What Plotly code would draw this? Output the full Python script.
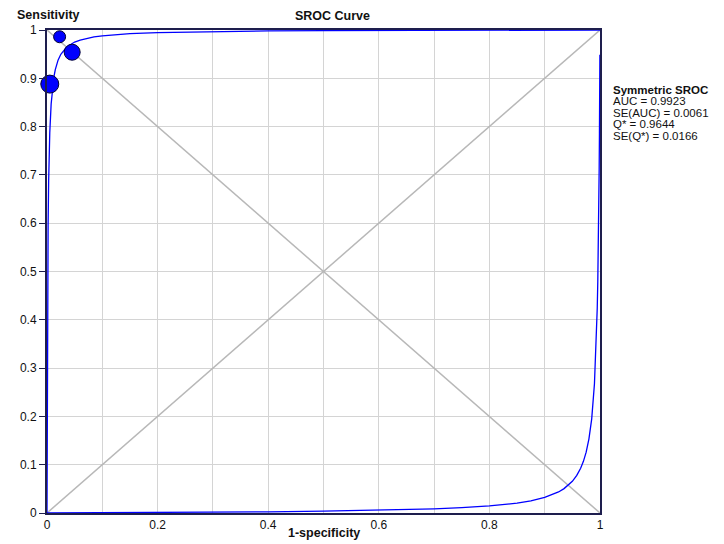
import plotly.graph_objects as go

# Study points (1-specificity, sensitivity, marker size)
study_fpr = [0.005, 0.0455, 0.0228]
study_tpr = [0.888, 0.954, 0.986]
study_size = [18, 16, 12]

# Symmetric SROC curve (upper branch)
sroc_fpr = [0, 0.0001, 0.0005, 0.001, 0.0015, 0.002, 0.003, 0.004, 0.005, 0.0075,
            0.01, 0.0125, 0.015, 0.02, 0.025, 0.03, 0.035, 0.04, 0.05, 0.06, 0.07,
            0.085, 0.1, 0.12, 0.15, 0.2, 0.3, 0.4, 0.5, 0.6, 0.7, 0.8, 0.9, 1.0]
sroc_tpr = [0, 0.0685, 0.269, 0.424, 0.525, 0.596, 0.689, 0.747, 0.787, 0.847,
            0.881, 0.903, 0.918, 0.9375, 0.9496, 0.958, 0.9639, 0.968, 0.975, 0.979,
            0.982, 0.9856, 0.988, 0.990, 0.9924, 0.9946, 0.9968, 0.998, 0.9986,
            0.9991, 0.9994, 0.9997, 0.9998, 1.0]

# Lower branch of the curve
low_fpr = [0, 0.1, 0.2, 0.3, 0.4, 0.5, 0.6, 0.7, 0.75, 0.8, 0.85, 0.875, 0.9,
           0.925, 0.935, 0.95, 0.958, 0.965, 0.97, 0.975, 0.98, 0.985, 0.99, 0.993,
           0.995, 0.996, 0.9965, 0.9975, 0.9985, 0.999, 0.9995, 0.9998]
low_tpr = [0, 0.0004, 0.0009, 0.0016, 0.0025, 0.0037, 0.0055, 0.0086, 0.011,
           0.0146, 0.0205, 0.0252, 0.0322, 0.0436, 0.0505, 0.0657, 0.0778, 0.0926,
           0.107, 0.126, 0.1535, 0.195, 0.268, 0.344, 0.424, 0.479, 0.512, 0.596,
           0.711, 0.787, 0.881, 0.949]

diag_x = [0, 1]
diag_y = [0, 1]
anti_x = [0, 1]
anti_y = [1, 0]

x_ticks = [0, 0.2, 0.4, 0.6, 0.8, 1]
x_tick_text = ["0", "0.2", "0.4", "0.6", "0.8", "1"]
y_ticks = [0, 0.1, 0.2, 0.3, 0.4, 0.5, 0.6, 0.7, 0.8, 0.9, 1]
y_tick_text = ["0", "0.1", "0.2", "0.3", "0.4", "0.5", "0.6", "0.7", "0.8", "0.9", "1"]

legend_title = "Symmetric SROC"
legend_lines = ["AUC = 0.9923", "SE(AUC) = 0.0061", "Q* = 0.9644", "SE(Q*) = 0.0166"]

FONT = "Liberation Sans, Arial, sans-serif"
GREY = "#b8b8b8"
BLUE = "#0000ff"

# page has an 8px body margin: plot area target is x 44..600, y 30..514 in page pixels
OFF = 8
L, T, PW, PH = 44 - OFF, 30 - OFF, 556, 484
W, H = 724 - OFF, 544 - OFF

fig = go.Figure()
fig.add_trace(go.Scatter(x=diag_x, y=diag_y, mode="lines",
                         line=dict(color=GREY, width=1.5), hoverinfo="skip"))
fig.add_trace(go.Scatter(x=anti_x, y=anti_y, mode="lines",
                         line=dict(color=GREY, width=1.5), hoverinfo="skip"))
fig.add_trace(go.Scatter(x=low_fpr, y=low_tpr, mode="lines",
                         line=dict(color=BLUE, width=1.3), cliponaxis=False))
fig.add_trace(go.Scatter(x=sroc_fpr, y=sroc_tpr, mode="lines",
                         line=dict(color=BLUE, width=1.3), cliponaxis=False))
fig.add_trace(go.Scatter(x=study_fpr, y=study_tpr, mode="markers",
                         marker=dict(color=BLUE, size=study_size, opacity=1,
                                     line=dict(color="#000033", width=1)),
                         cliponaxis=False))

fig.update_layout(
    width=W, height=H,
    margin=dict(l=L, r=W - L - PW, t=T, b=H - T - PH),
    paper_bgcolor="white", plot_bgcolor="white",
    showlegend=False,
    font=dict(family=FONT, size=12, color="#111111"),
)
fig.update_xaxes(
    range=[0, 1], tickvals=x_ticks, ticktext=x_tick_text,
    showgrid=True, gridcolor="#d4d4d4", gridwidth=1,
    minor=dict(dtick=0.1, showgrid=True, gridcolor="#d4d4d4", gridwidth=1),
    showline=True, linecolor="#1e1e4e", linewidth=2, mirror=True,
    ticks="", zeroline=False, tickfont=dict(size=12),
)
fig.update_yaxes(
    range=[0, 1], tickvals=y_ticks, ticktext=y_tick_text,
    showgrid=True, gridcolor="#d4d4d4", gridwidth=1,
    showline=True, linecolor="#1e1e4e", linewidth=2, mirror=True,
    ticks="outside", ticklen=6, tickcolor="#1e1e4e", zeroline=False,
    tickfont=dict(size=12),
)

fig.add_annotation(text="<b>SROC Curve</b>", xref="paper", yref="paper",
                   x=(331 - 44) / PW, y=1, yshift=14, showarrow=False,
                   xanchor="center", yanchor="middle", font=dict(size=12.5))
fig.add_annotation(text="<b>Sensitivity</b>", xref="paper", yref="paper",
                   x=-(44 - 12) / PW, y=1, yshift=15, showarrow=False,
                   xanchor="left", yanchor="middle", font=dict(size=12.5))
fig.add_annotation(text="<b>1-specificity</b>", xref="paper", yref="paper",
                   x=(322 - 44) / PW, y=0, yshift=-20, showarrow=False,
                   xanchor="center", yanchor="middle", font=dict(size=12.5))

lx = (611 - 44) / PW
fig.add_annotation(text="<b>" + legend_title + "</b>", xref="paper", yref="paper",
                   x=lx, y=(514 - 90) / PH, showarrow=False,
                   xanchor="left", yanchor="middle", font=dict(size=11.5))
for i, t in enumerate(legend_lines):
    fig.add_annotation(text=t, xref="paper", yref="paper",
                       x=lx, y=(514 - (101.5 + 11.5 * i)) / PH, showarrow=False,
                       xanchor="left", yanchor="middle", font=dict(size=11.5))

fig.write_html("out.html")
